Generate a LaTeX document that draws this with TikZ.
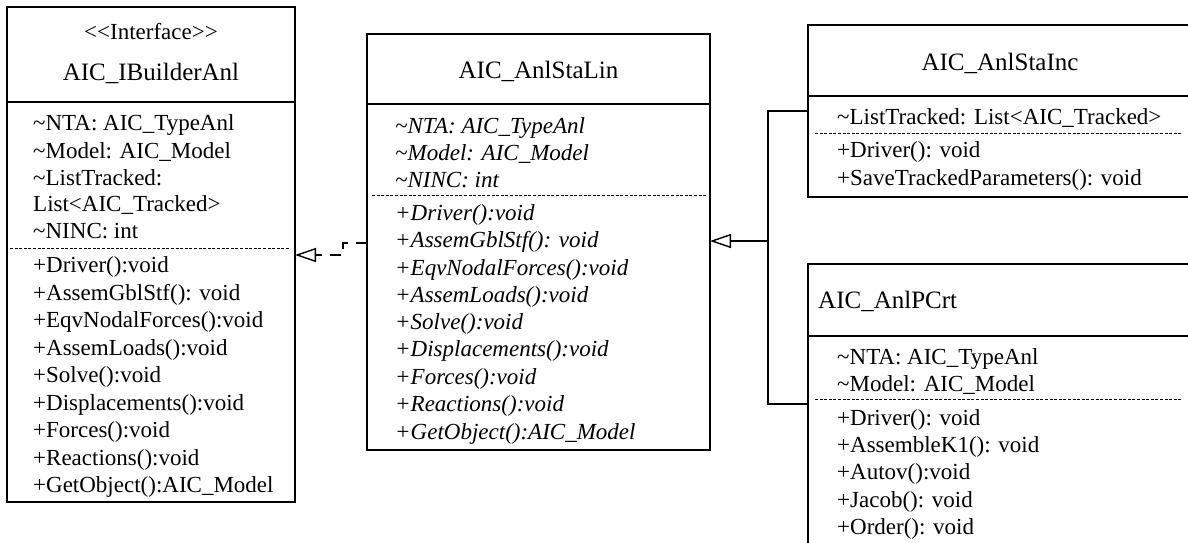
\documentclass[tikz,border=0pt]{standalone}
\usepackage{fontspec}
\setmainfont{Liberation Serif}
\usetikzlibrary{arrows.meta}
\begin{document}
\begin{tikzpicture}[x=1pt,y=-1pt,
  box/.style={draw, line width=1.4pt, anchor=north west, inner sep=0pt, outer sep=0pt},
  sepline/.style={line width=1.4pt},
  dsep/.style={line width=0.9pt, dash pattern=on 3pt off 1.6pt},
  txt/.style={anchor=base west, inner sep=0pt, font=\fontsize{23}{27}\selectfont},
  itxt/.style={anchor=base west, inner sep=0pt, font=\fontsize{23}{27}\selectfont\itshape},
  ttl/.style={anchor=base, inner sep=0pt, font=\fontsize{25}{30}\selectfont},
  conn/.style={line width=1.4pt},
  realize/.style={conn, dash pattern=on 11pt off 8pt, -{Triangle[open, length=21pt, width=14pt, fill=white]}},
  gen/.style={conn, -{Triangle[open, length=21pt, width=14pt, fill=white]}}
]
\useasboundingbox (0,0) rectangle (1188,542);

% ---------- AIC_IBuilderAnl ----------
\node[box, minimum width=288pt, minimum height=495pt] (ib) at (7,7) {};
\draw[sepline] (7,102) -- (295,102);
\draw[dsep] (10,248) -- (289,248);
\node[ttl, font=\fontsize{23}{27}\selectfont] (ibst) at (151,39) {<{}<{}Interface>{}>};
\node[ttl] (ibt) at (151,80) {AIC\_IBuilderAnl};
\node[txt] (iba1) at (33,130) {\textasciitilde NTA: AIC\_TypeAnl};
\node[txt] (iba2) at (33,158) {\textasciitilde Model: AIC\_Model};
\node[txt] (iba3) at (33,185) {\textasciitilde ListTracked:};
\node[txt] (iba4) at (33,211) {List<AIC\_Tracked>};
\node[txt] (iba5) at (33,238) {\textasciitilde NINC: int};
\node[txt] (ibm1) at (33,272) {+Driver():void};
\node[txt] (ibm2) at (33,300) {+AssemGblStf(): void};
\node[txt] (ibm3) at (33,327) {+EqvNodalForces():void};
\node[txt] (ibm4) at (33,355) {+AssemLoads():void};
\node[txt] (ibm5) at (33,382) {+Solve():void};
\node[txt] (ibm6) at (33,410) {+Displacements():void};
\node[txt] (ibm7) at (33,437) {+Forces():void};
\node[txt] (ibm8) at (33,465) {+Reactions():void};
\node[txt] (ibm9) at (33,492) {+GetObject():AIC\_Model};

% ---------- AIC_AnlStaLin ----------
\node[box, minimum width=343pt, minimum height=416pt] (mid) at (367,34) {};
\draw[sepline] (367,104) -- (710,104);
\draw[dsep] (372,195) -- (706,195);
\node[ttl] (midt) at (538.5,78) {AIC\_AnlStaLin};
\node[itxt] (mida1) at (395,133) {\textasciitilde NTA: AIC\_TypeAnl};
\node[itxt] (mida2) at (395,160) {\textasciitilde Model: AIC\_Model};
\node[itxt] (mida3) at (395,187) {\textasciitilde NINC: int};
\node[itxt] (midm1) at (395,220) {+Driver():void};
\node[itxt] (midm2) at (395,247) {+AssemGblStf(): void};
\node[itxt] (midm3) at (395,275) {+EqvNodalForces():void};
\node[itxt] (midm4) at (395,302) {+AssemLoads():void};
\node[itxt] (midm5) at (395,329) {+Solve():void};
\node[itxt] (midm6) at (395,356) {+Displacements():void};
\node[itxt] (midm7) at (395,384) {+Forces():void};
\node[itxt] (midm8) at (395,411) {+Reactions():void};
\node[itxt] (midm9) at (395,439) {+GetObject():AIC\_Model};

% ---------- AIC_AnlStaInc ----------
\node[box, minimum width=384pt, minimum height=172pt] (inc) at (808,25) {};
\draw[sepline] (808,96) -- (1192,96);
\draw[dsep] (815,133) -- (1182,133);
\node[ttl] (inct) at (1000,70) {AIC\_AnlStaInc};
\node[txt] (inca1) at (837,124) {\textasciitilde ListTracked: List<AIC\_Tracked>};
\node[txt] (incm1) at (837,157) {+Driver(): void};
\node[txt] (incm2) at (837,185) {+SaveTrackedParameters(): void};

% ---------- AIC_AnlPCrt ----------
\node[box, minimum width=384pt, minimum height=300pt] (crt) at (808,264) {};
\draw[sepline] (808,336) -- (1192,336);
\draw[dsep] (815,399) -- (1182,399);
\node[anchor=base west, inner sep=0pt, font=\fontsize{25}{30}\selectfont] (crtt) at (818,308) {AIC\_AnlPCrt};
\node[txt] (crta1) at (837,364) {\textasciitilde NTA: AIC\_TypeAnl};
\node[txt] (crta2) at (837,391) {\textasciitilde Model: AIC\_Model};
\node[txt] (crtm1) at (837,425) {+Driver(): void};
\node[txt] (crtm2) at (837,452) {+AssembleK1(): void};
\node[txt] (crtm3) at (837,479) {+Autov():void};
\node[txt] (crtm4) at (837,507) {+Jacob(): void};
\node[txt] (crtm5) at (837,534) {+Order(): void};

% ---------- connectors ----------
\coordinate (rj) at (343,243);
\coordinate (rk) at (343,255);
\draw[realize] (mid.west |- rj) -- (rj) -- (rk) -- (ib.east |- rk);

\coordinate (gtop) at (768,111);
\coordinate (gbot) at (768,404);
\coordinate (gmid) at (768,241);
\draw[conn] (inc.west |- gtop) -- (gtop) -- (gbot) -- (crt.west |- gbot);
\draw[gen] (gmid) -- (mid.east |- gmid);
\end{tikzpicture}
\end{document}
